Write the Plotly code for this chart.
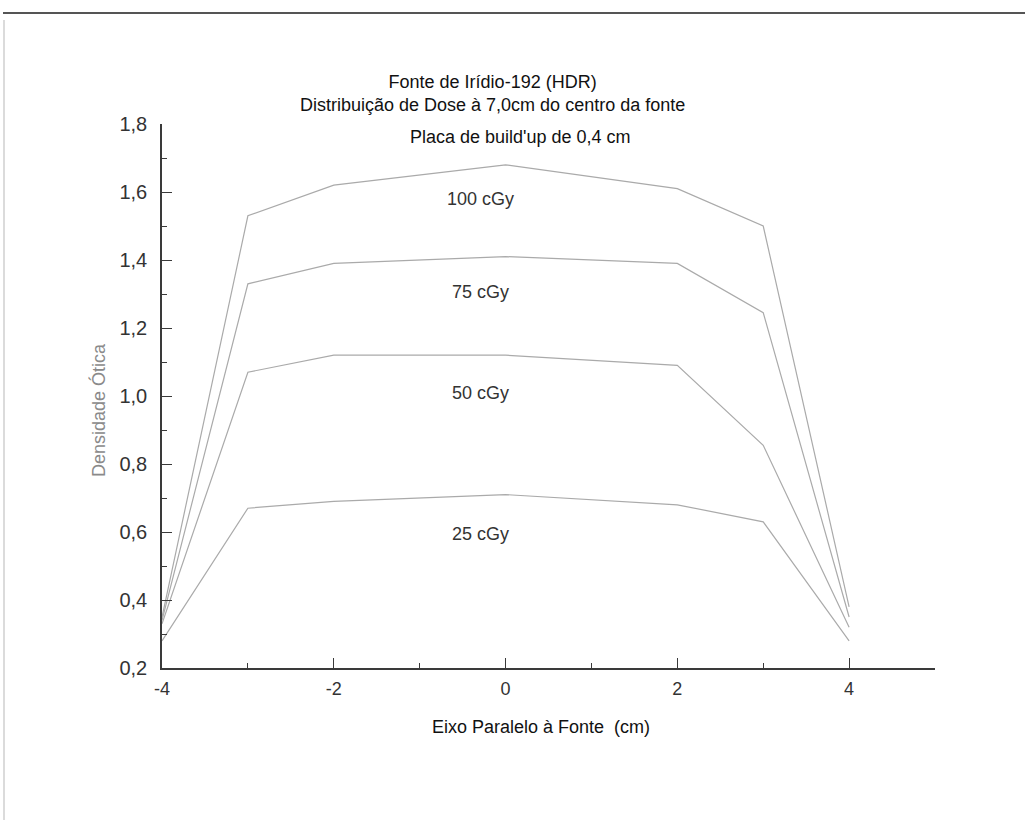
import plotly.graph_objects as go

# Data
x_pos = [-4, -3, -2, 0, 2, 3, 4]
dose_100 = [0.35, 1.53, 1.62, 1.68, 1.61, 1.50, 0.38]
dose_75 = [0.34, 1.33, 1.39, 1.41, 1.39, 1.245, 0.35]
dose_50 = [0.33, 1.07, 1.12, 1.12, 1.09, 0.855, 0.32]
dose_25 = [0.28, 0.67, 0.69, 0.71, 0.68, 0.63, 0.28]
series_names = ["100 cGy", "75 cGy", "50 cGy", "25 cGy"]
label_y = [1.58, 1.307, 1.009, 0.594]
x_tick_vals = [-4, -2, 0, 2, 4]
x_tick_text = ["-4", "-2", "0", "2", "4"]

FONT = "Liberation Sans, Arial, sans-serif"
LINE_COLOR = "#aaaaaa"
AXIS_COLOR = "#3a3a3a"

fig = go.Figure()
for name, ys in zip(series_names, [dose_100, dose_75, dose_50, dose_25]):
    fig.add_trace(go.Scatter(x=x_pos, y=ys, mode="lines", name=name,
                             line=dict(color=LINE_COLOR, width=1.2),
                             showlegend=False))

annotations = []
for name, ly in zip(series_names, label_y):
    annotations.append(dict(x=-0.29, y=ly, xref="x", yref="y", text=name,
                            showarrow=False, xanchor="center", yanchor="middle",
                            font=dict(family=FONT, size=18, color="#333333")))

# Titles (paper coords: plot area is 162..935 px wide, 124..668 px tall)
def px_x(px):
    return (px - 162) / 773.0

def px_y(py):
    return (668 - py) / 544.0

def ann(px, py, text, size, color, angle=0):
    return dict(x=px_x(px), y=px_y(py), xref="paper", yref="paper",
                text=text, showarrow=False, xanchor="center", yanchor="middle",
                textangle=angle, font=dict(family=FONT, size=size, color=color))

annotations += [
    ann(492, 94, "Fonte de Irídio-192 (HDR)<br>Distribuição de Dose à 7,0cm do centro da fonte",
        18, "#111111"),
    ann(520, 137, "Placa de build'up de 0,4 cm", 18, "#111111"),
    ann(541, 727, "Eixo Paralelo à Fonte  (cm)", 18, "#111111"),
    ann(98, 410, "Densidade Ótica", 18, "#8a8a8a", -90),
]

fig.update_layout(
    width=1025, height=820,
    margin=dict(l=162, r=90, t=124, b=152),
    paper_bgcolor="white", plot_bgcolor="white",
    separators=",.",
    annotations=annotations,
    shapes=[
        dict(type="line", xref="paper", yref="paper",
             x0=px_x(3), x1=px_x(1025), y0=px_y(13), y1=px_y(13),
             line=dict(color="#555555", width=2)),
        dict(type="line", xref="paper", yref="paper",
             x0=px_x(4), x1=px_x(4), y0=px_y(20), y1=px_y(820),
             line=dict(color="#cfcfcf", width=1.5)),
    ],
)

fig.update_xaxes(
    range=[-4, 5], showgrid=False, zeroline=False,
    showline=True, linecolor=AXIS_COLOR, linewidth=1.5,
    tickmode="array", tickvals=x_tick_vals, ticktext=x_tick_text,
    ticks="inside", ticklen=10, tickwidth=1.2, tickcolor=AXIS_COLOR,
    ticklabelstandoff=4,
    minor=dict(ticks="inside", ticklen=5, dtick=1, tick0=-4,
               tickcolor=AXIS_COLOR, tickwidth=1),
    tickfont=dict(family=FONT, size=18, color="#333333"),
)
fig.update_yaxes(
    range=[0.2, 1.8], showgrid=False, zeroline=False,
    showline=True, linecolor=AXIS_COLOR, linewidth=1.5,
    tick0=0.2, dtick=0.2, tickformat=".1f",
    ticks="inside", ticklen=10, tickwidth=1.2, tickcolor=AXIS_COLOR,
    ticklabelstandoff=9,
    minor=dict(ticks="inside", ticklen=5, dtick=0.1, tick0=0.2,
               tickcolor=AXIS_COLOR, tickwidth=1),
    tickfont=dict(family=FONT, size=20, color="#333333"),
)

fig.write_html("out.html")
